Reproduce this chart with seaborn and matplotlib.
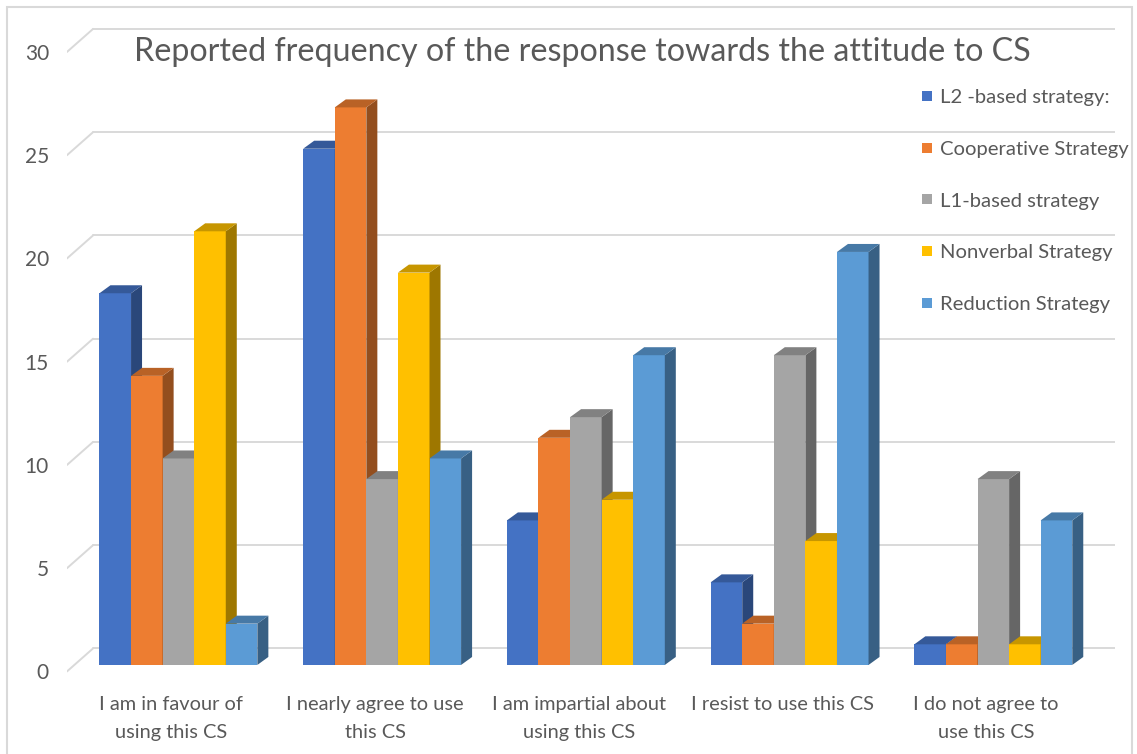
import numpy as np
import pandas as pd
import matplotlib
matplotlib.use("Agg")
import matplotlib.pyplot as plt
from matplotlib.patches import Polygon, Rectangle
from matplotlib.lines import Line2D
import seaborn as sns

# %% data
categories = ["I am in favour of\nusing this CS", "I nearly agree to use\nthis CS",
              "I am impartial about\nusing this CS", "I resist to use this CS",
              "I do not agree to\nuse this CS"]
strategies = ["L2 -based strategy:", "Cooperative Strategy", "L1-based strategy",
              "Nonverbal Strategy", "Reduction Strategy"]
l2_based = [18, 25, 7, 4, 1]
cooperative = [14, 27, 11, 2, 1]
l1_based = [10, 9, 12, 15, 9]
nonverbal = [21, 19, 8, 6, 1]
reduction = [2, 10, 15, 20, 7]
yticks = [0, 5, 10, 15, 20, 25, 30]

colors = ["#4472C4", "#ED7D31", "#A5A5A5", "#FFC000", "#5B9BD5"]
txt = "#595959"
grid = "#D9D9D9"

rows = []
for s, vals in zip(strategies, [l2_based, cooperative, l1_based, nonverbal, reduction]):
    for c, v in zip(categories, vals):
        rows.append({"response": c, "strategy": s, "count": v})
df = pd.DataFrame(rows)

# %% figure
sns.set_theme(style="white")
plt.rcParams["font.family"] = ["Lato", "DejaVu Sans"]

fig = plt.figure(figsize=(11.37, 7.54), dpi=100)
ax = fig.add_axes([0.0589, 0.1044, 0.9217, 0.8764])

sns.barplot(data=df, x="response", y="count", hue="strategy", order=categories,
            hue_order=strategies, palette=colors, width=0.775, gap=0, linewidth=0,
            saturation=1, legend=False, errorbar=None, ax=ax)

# pseudo 3d: offsets in data units
dx, dy = 0.054, 0.387
f_off, b_off = 0.315, 0.80
x_front, x_back, x_right = -0.547, -0.419, 4.597


def shade(c, f):
    r, g, b = matplotlib.colors.to_rgb(c)
    return (r * f, g * f, b * f)


for j, cont in enumerate(ax.containers):
    for bar in cont:
        x0, w, h = bar.get_x(), bar.get_width(), bar.get_height()
        bar.set_zorder(3 + 3 * j)
        side = Polygon([(x0 + w, 0), (x0 + w + dx, dy), (x0 + w + dx, h + dy), (x0 + w, h)],
                       closed=True, facecolor=shade(colors[j], 0.62), lw=0, zorder=4 + 3 * j)
        top = Polygon([(x0, h), (x0 + dx, h + dy), (x0 + w + dx, h + dy), (x0 + w, h)],
                      closed=True, facecolor=shade(colors[j], 0.78), lw=0, zorder=5 + 3 * j)
        ax.add_patch(side)
        ax.add_patch(top)

for v in yticks:
    ax.plot([x_front, x_back], [v - f_off, v + b_off], color=grid, lw=1.4, zorder=1)
    ax.plot([x_back, x_right], [v + b_off, v + b_off], color=grid, lw=1.4, zorder=1)

ax.set_xlim(x_front, x_right)
ax.set_ylim(-0.5, 31.5)
ax.set_yticks(np.array(yticks) - f_off, labels=[str(t) for t in yticks])
ax.set_xticks(np.arange(len(categories)) - 0.035, labels=categories)
ax.tick_params(axis="y", length=0, pad=13, labelsize=15, labelcolor=txt)
ax.tick_params(axis="x", length=0, pad=15, labelsize=14.4, labelcolor=txt)
for lab in ax.get_xticklabels():
    lab.set_linespacing(1.8)
ax.set_xlabel("")
ax.set_ylabel("")
for sp in ax.spines.values():
    sp.set_visible(False)
ax.patch.set_alpha(0)

fig.text(582 / 1137, 1 - 52 / 754, "Reported frequency of the response towards the attitude to CS",
         ha="center", va="center", fontsize=23.2, color=txt)

handles = [Line2D([], [], marker="s", ls="", markersize=7.5, markerfacecolor=c,
                  markeredgewidth=0) for c in colors]
fig.legend(handles, strategies, loc="upper left", bbox_to_anchor=(921 / 1137, 1 - 89 / 754),
           frameon=False, fontsize=14.6, labelcolor=txt, handlelength=0.6,
           handletextpad=0.35, labelspacing=1.7, borderpad=0, borderaxespad=0)

fig.add_artist(Rectangle((7 / 1137, -0.01), 1125 / 1137, 1 - 7 / 754 + 0.01,
                         transform=fig.transFigure, fill=False, edgecolor=grid, lw=1.5))

fig.savefig("out.png", dpi=100)
